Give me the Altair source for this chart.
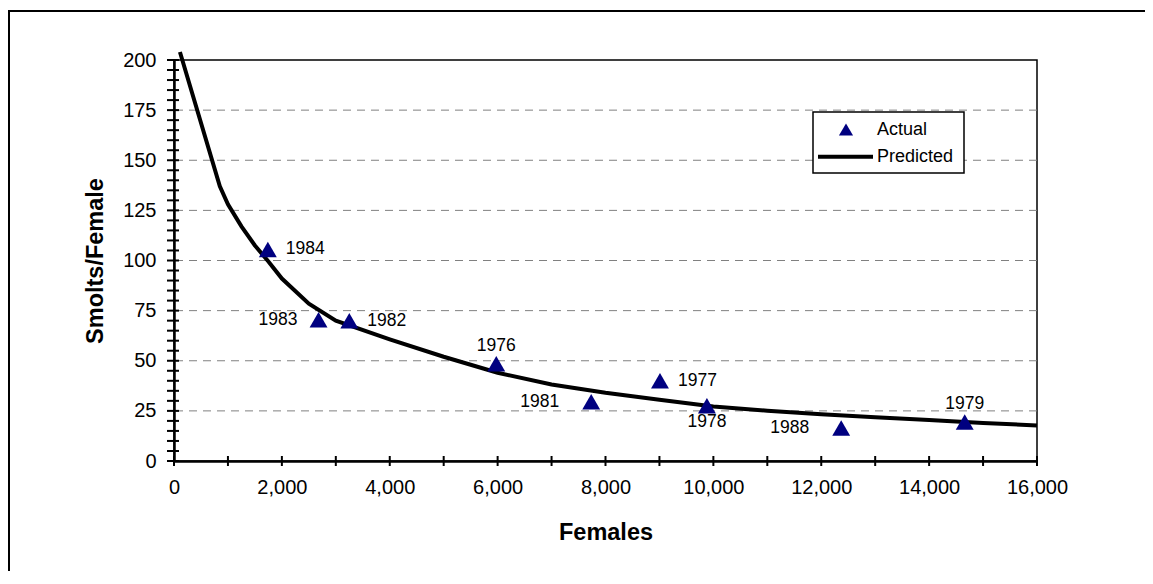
import altair as alt
import pandas as pd

# ---------------- data ----------------
FEMALES = [1740, 2680, 3250, 5975, 7735, 9010, 9880, 12370, 14660]
SMOLTS_PER_FEMALE = [105.5, 70.5, 70, 48.5, 29.5, 40, 27.5, 16.5, 19.5]
YEARS = ["1984", "1983", "1982", "1976", "1981", "1977", "1978", "1988", "1979"]
LABEL_SIDE = ["right", "left", "right", "above", "farleft", "right", "below", "farleft", "above"]

PRED_FEMALES = [110, 850, 1000, 1250, 1500, 1750, 2000, 2500, 3000, 4000, 5000, 6000,
                7000, 8000, 9000, 10000, 11000, 12000, 13000, 14000, 15000, 16000]
PRED_VALUES = [204, 137, 128, 117, 107.5, 99.5, 91, 78.5, 70, 60.7, 52, 44,
               38.2, 34, 30.6, 27.2, 25.1, 23.3, 21.8, 20.4, 19, 17.7]

SERIES = ["Actual", "Predicted"]

X_LABELS = [0, 2000, 4000, 6000, 8000, 10000, 12000, 14000, 16000]
X_TICKS = list(range(0, 16001, 1000))
Y_LABELS = [0, 25, 50, 75, 100, 125, 150, 175, 200]
Y_GRID = [25, 50, 75, 100, 125, 150, 175]
Y_MINOR = list(range(0, 201, 5))

W, H = 863, 401
FONT = "Liberation Sans"
NAVY = "#000080"

actual = pd.DataFrame({"F": FEMALES, "S": SMOLTS_PER_FEMALE, "year": YEARS, "side": LABEL_SIDE})
pred = pd.DataFrame({"F": PRED_FEMALES, "S": PRED_VALUES})
one = pd.DataFrame({"k": [0]})

xs = alt.Scale(domain=[0, 16000], nice=False, zero=False)
ys = alt.Scale(domain=[0, 200], nice=False, zero=False)

x_axis = alt.Axis(values=X_LABELS, format=",d", title="Females", grid=False, ticks=False,
                  labelFlush=False, labelOverlap=False,
                  labelPadding=16, labelFontSize=20, labelFont=FONT, labelColor="black",
                  domainColor="black", domainWidth=2.5,
                  titleFont=FONT, titleFontSize=23.5, titleFontWeight="bold", titleColor="black",
                  titleX=W / 2, titleY=71, titleBaseline="middle", titleAlign="center")
y_axis = alt.Axis(values=Y_LABELS, title="Smolts/Female", grid=False, ticks=False,
                  labelFlush=False, labelOverlap=False,
                  labelPadding=18, labelFontSize=20, labelFont=FONT, labelColor="black",
                  domainColor="black", domainWidth=2.5,
                  titleFont=FONT, titleFontSize=23.5, titleFontWeight="bold", titleColor="black",
                  titleX=-79, titleY=H / 2, titleAngle=270, titleBaseline="middle", titleAlign="center")

grid = alt.Chart(pd.DataFrame({"v": Y_GRID})).mark_rule(
    color="#808080", strokeWidth=1, strokeDash=[8, 6]
).encode(y=alt.Y("v:Q", scale=ys, axis=y_axis))

line = alt.Chart(pred).mark_line(color="black", strokeWidth=4, clip=False).encode(
    x=alt.X("F:Q", scale=xs, axis=x_axis),
    y=alt.Y("S:Q", scale=ys),
)

pts = alt.Chart(actual).mark_point(shape="triangle-up", filled=True, color=NAVY,
                                   size=320, opacity=1).encode(
    x=alt.X("F:Q", scale=xs), y=alt.Y("S:Q", scale=ys))


def labels(side, **kw):
    base = dict(font=FONT, fontSize=17.5, color="black", baseline="middle")
    base.update(kw)
    return alt.Chart(actual).transform_filter(alt.datum.side == side).mark_text(**base).encode(
        x=alt.X("F:Q", scale=xs), y=alt.Y("S:Q", scale=ys), text="year:N")


lab = (labels("right", align="left", dx=18)
       + labels("left", align="right", dx=-21)
       + labels("farleft", align="right", dx=-32)
       + labels("above", align="center", dy=-18)
       + labels("below", align="center", dy=16))

xt = alt.Chart(pd.DataFrame({"v": X_TICKS})).mark_rule(color="black", strokeWidth=2).encode(
    x=alt.X("v:Q", scale=xs), y=alt.value(H - 5), y2=alt.value(H + 5))
yt = alt.Chart(pd.DataFrame({"v": Y_MINOR})).mark_rule(color="black", strokeWidth=2).encode(
    y=alt.Y("v:Q", scale=ys), x=alt.value(-7), x2=alt.value(5))

# legend
leg_box = alt.Chart(one).mark_rect(fill="white", stroke="black", strokeWidth=1.5).encode(
    x=alt.value(639), x2=alt.value(790), y=alt.value(52), y2=alt.value(113))
leg_tri = alt.Chart(one).mark_point(shape="triangle-up", filled=True, color=NAVY, size=200,
                                    opacity=1).encode(x=alt.value(672), y=alt.value(69.5))
leg_line = alt.Chart(one).mark_rule(color="black", strokeWidth=4).encode(
    x=alt.value(644), x2=alt.value(699), y=alt.value(96.7))
leg_t1 = alt.Chart(one).mark_text(font=FONT, fontSize=18, align="left", baseline="middle",
                                  color="black").encode(
    x=alt.value(703), y=alt.value(69.5), text=alt.value(SERIES[0]))
leg_t2 = alt.Chart(one).mark_text(font=FONT, fontSize=18, align="left", baseline="middle",
                                  color="black").encode(
    x=alt.value(703), y=alt.value(97), text=alt.value(SERIES[1]))

# outer frame
frame_top = alt.Chart(one).mark_rule(color="black", strokeWidth=2).encode(
    x=alt.value(-166), x2=alt.value(990), y=alt.value(-49))
frame_left = alt.Chart(one).mark_rule(color="black", strokeWidth=2).encode(
    x=alt.value(-165), y=alt.value(-50), y2=alt.value(540))

chart = alt.layer(
    grid, line, pts, lab, xt, yt, leg_box, leg_tri, leg_line, leg_t1, leg_t2,
    frame_top, frame_left
).properties(
    width=W, height=H,
    autosize=alt.AutoSizeParams(type="none"),
    padding={"left": 166, "top": 52, "right": 108, "bottom": 110},
    background="white",
).configure_view(stroke="black", strokeWidth=1.5)

chart.save("out.html", embed_options={"renderer": "svg", "actions": False})
